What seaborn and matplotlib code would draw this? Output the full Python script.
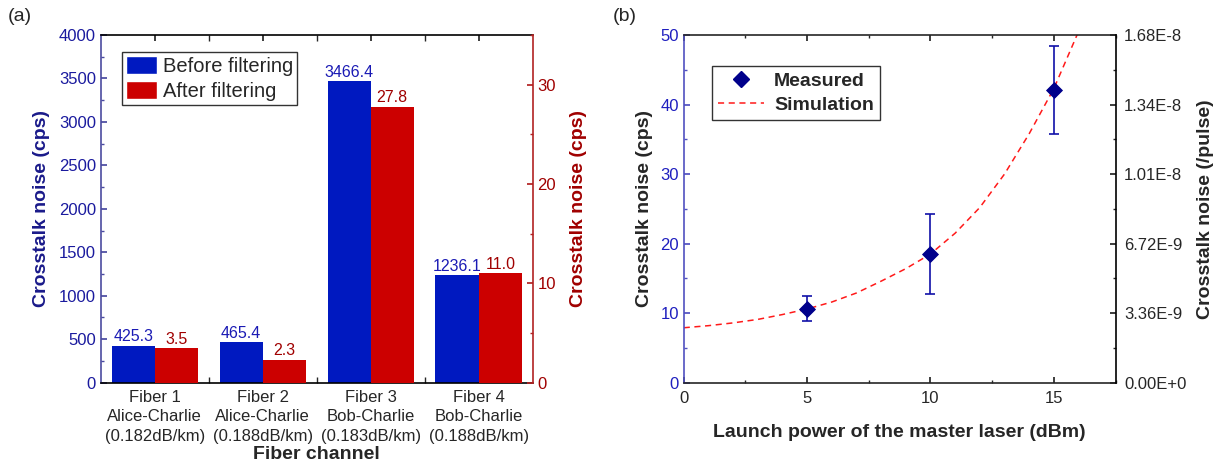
# Recreate the two-panel crosstalk noise figure.
import numpy as np
import pandas as pd
import matplotlib
matplotlib.use("Agg")
import matplotlib.pyplot as plt
import seaborn as sns
from matplotlib.ticker import MultipleLocator, FixedLocator
from matplotlib.lines import Line2D
from matplotlib.patches import Patch

# -----------------------------
# Data
# -----------------------------

# Panel (a): fiber channels and noise before / after filtering.
fiber_labels = [
    "Fiber 1\nAlice-Charlie\n(0.182dB/km)",
    "Fiber 2\nAlice-Charlie\n(0.188dB/km)",
    "Fiber 3\nBob-Charlie\n(0.183dB/km)",
    "Fiber 4\nBob-Charlie\n(0.188dB/km)",
]
before_filtering = [425.3, 465.4, 3466.4, 1236.1]
after_filtering = [3.5, 2.3, 27.8, 11.0]

# Panel (b): measured points with error bars.
launch_power = [5, 10, 15]
measured_noise = [10.6, 18.5, 42.1]
measured_low = [8.8, 12.8, 35.8]
measured_high = [12.4, 24.2, 48.4]

# Panel (b): simulation curve.
sim_power = [0, 1, 2, 3, 4, 5, 6, 7, 8, 9, 10, 11, 12, 13, 14, 15, 16]
sim_noise = [7.9, 8.2, 8.6, 9.1, 9.8, 10.6, 11.6, 12.9, 14.6, 16.4,
             18.5, 21.5, 25.2, 30.0, 35.8, 42.3, 50.5]

# Right-hand axis of panel (b).
pulse_ticks = [0, 3.36e-9, 6.72e-9, 1.01e-8, 1.34e-8, 1.68e-8]
pulse_tick_labels = ["0.00E+0", "3.36E-9", "6.72E-9", "1.01E-8", "1.34E-8", "1.68E-8"]

# -----------------------------
# Style
# -----------------------------
sns.set_theme(style="ticks")
plt.rcParams["font.family"] = ["Liberation Sans", "DejaVu Sans"]
plt.rcParams["xtick.direction"] = "in"
plt.rcParams["ytick.direction"] = "in"

BLUE_BAR = "#0019c0"
RED_BAR = "#cc0000"
NAVY = "#1a1a9e"
DARK_RED = "#a00000"
LABEL_SIZE = 14

fig = plt.figure(figsize=(12.24, 4.72), dpi=100)

# -----------------------------
# Panel (a): grouped bars on two y-axes
# -----------------------------
ax = fig.add_axes([0.0823, 0.1892, 0.3529, 0.7367])
ax2 = ax.twinx()

positions = np.arange(len(fiber_labels))
df_bars = pd.DataFrame({
    "pos": positions,
    "before": before_filtering,
    "after": after_filtering,
})

sns.barplot(x=df_bars["pos"] - 0.2, y=df_bars["before"], native_scale=True,
            width=0.4, color=BLUE_BAR, saturation=1, linewidth=0, ax=ax)
sns.barplot(x=df_bars["pos"] + 0.2, y=df_bars["after"], native_scale=True,
            width=0.4, color=RED_BAR, saturation=1, linewidth=0, ax=ax2)

ax.bar_label(ax.containers[0], fmt="%.1f", color="#1a1ab4", fontsize=11.5, padding=1)
ax2.bar_label(ax2.containers[0], fmt="%.1f", color=DARK_RED, fontsize=11.5, padding=1)

ax.set_xlim(-0.5, 3.5)
ax.set_ylim(0, 4000)
ax2.set_ylim(0, 35)

ax.xaxis.set_major_locator(FixedLocator(positions))
ax.xaxis.set_minor_locator(FixedLocator([0.5, 1.5, 2.5]))
ax.set_xticklabels(fiber_labels, fontsize=12, linespacing=1.4)
ax.tick_params(axis="x", which="both", top=True, length=4, pad=5)

ax.yaxis.set_major_locator(MultipleLocator(500))
ax.yaxis.set_minor_locator(MultipleLocator(250))
ax.tick_params(axis="y", which="major", labelsize=12, labelcolor=NAVY, color="#4b4ba0", length=4)
ax.tick_params(axis="y", which="minor", color="#4b4ba0", length=2.5)

ax2.yaxis.set_major_locator(MultipleLocator(10))
ax2.yaxis.set_minor_locator(MultipleLocator(5))
ax2.tick_params(axis="y", which="major", labelsize=12, labelcolor=DARK_RED, color="#b22222", length=4)
ax2.tick_params(axis="y", which="minor", color="#b22222", length=2.5)

ax.set_xlabel("Fiber channel", fontsize=LABEL_SIZE, fontweight="bold", labelpad=1)
ax.set_ylabel("Crosstalk noise (cps)", fontsize=LABEL_SIZE, fontweight="bold", color="#1a1a8a", labelpad=6)
ax2.set_ylabel("Crosstalk noise (cps)", fontsize=LABEL_SIZE, fontweight="bold", color=DARK_RED, labelpad=10)

for spine in ["top", "bottom"]:
    ax.spines[spine].set_color("black")
    ax2.spines[spine].set_visible(False)
ax.spines["left"].set_color("#4b4ba0")
ax2.spines["left"].set_visible(False)
ax2.spines["right"].set_color("#b22222")
ax.spines["right"].set_visible(False)
for s in ax.spines.values():
    s.set_linewidth(1.2)
for s in ax2.spines.values():
    s.set_linewidth(1.2)

legend_handles = [Patch(facecolor=BLUE_BAR, label="Before filtering"),
                  Patch(facecolor=RED_BAR, label="After filtering")]
leg = ax.legend(handles=legend_handles, loc="upper left", bbox_to_anchor=(0.05, 0.95),
                fontsize=14.5, frameon=True, fancybox=False, edgecolor="black",
                handlelength=1.5, handleheight=1.0, handletextpad=0.3,
                borderpad=0.2, labelspacing=0.25, borderaxespad=0)
leg.get_frame().set_linewidth(1.0)

fig.text(0.006, 0.965, "(a)", fontsize=14, va="center", ha="left")

# -----------------------------
# Panel (b): measured points and simulation curve
# -----------------------------
bx = fig.add_axes([0.5586, 0.1892, 0.3528, 0.7367])
bx2 = bx.twinx()

df_sim = pd.DataFrame({"power": sim_power, "noise": sim_noise})
sns.lineplot(data=df_sim, x="power", y="noise", color="#ff1a1a", linestyle=(0, (4, 3)),
             linewidth=1.1, ax=bx)

err_low = np.array(measured_noise) - np.array(measured_low)
err_high = np.array(measured_high) - np.array(measured_noise)
bx.errorbar(launch_power, measured_noise, yerr=[err_low, err_high], fmt="none",
            ecolor="#1010a8", elinewidth=1.2, capsize=3.5, capthick=1.2, zorder=3)
df_meas = pd.DataFrame({"power": launch_power, "noise": measured_noise})
sns.scatterplot(data=df_meas, x="power", y="noise", marker="D", s=65, color="#00008b",
                edgecolor="#00008b", zorder=4, ax=bx)

bx.set_xlim(0, 17.5)
bx.set_ylim(0, 50)
bx2.set_ylim(0, 1.68e-8)

bx.xaxis.set_major_locator(MultipleLocator(5))
bx.xaxis.set_minor_locator(MultipleLocator(2.5))
bx.yaxis.set_major_locator(MultipleLocator(10))
bx.yaxis.set_minor_locator(MultipleLocator(5))
bx.tick_params(axis="x", which="both", top=True, labelsize=12, pad=6)
bx.tick_params(axis="x", which="major", length=4)
bx.tick_params(axis="x", which="minor", length=2.5)
bx.tick_params(axis="y", which="major", labelsize=12, labelcolor="#1f1fbf", color="#5050c0", length=4)
bx.tick_params(axis="y", which="minor", color="#5050c0", length=2.5)

bx2.yaxis.set_major_locator(FixedLocator(pulse_ticks))
bx2.yaxis.set_minor_locator(FixedLocator([1.68e-9, 5.04e-9, 8.4e-9, 1.176e-8, 1.512e-8]))
bx2.set_yticklabels(pulse_tick_labels)
bx2.tick_params(axis="y", which="major", labelsize=12, length=4, pad=6)
bx2.tick_params(axis="y", which="minor", length=2.5)

bx.set_xlabel("Launch power of the master laser (dBm)", fontsize=LABEL_SIZE, fontweight="bold", labelpad=13)
bx.set_ylabel("Crosstalk noise (cps)", fontsize=LABEL_SIZE, fontweight="bold", labelpad=5)
bx2.set_ylabel("Crosstalk noise (/pulse)", fontsize=LABEL_SIZE, fontweight="bold", labelpad=8)

bx.spines["left"].set_color("#5050c0")
bx2.spines["left"].set_visible(False)
bx.spines["right"].set_visible(False)
bx2.spines["right"].set_color("black")
bx2.spines["top"].set_visible(False)
bx2.spines["bottom"].set_visible(False)
for s in list(bx.spines.values()) + list(bx2.spines.values()):
    s.set_linewidth(1.2)

b_handles = [Line2D([], [], marker="D", color="#00008b", linestyle="none", markersize=8,
                    label="Measured"),
             Line2D([], [], color="#ff1a1a", linestyle=(0, (4, 3)), linewidth=1.1,
                    label="Simulation")]
leg_b = bx.legend(handles=b_handles, loc="upper left", bbox_to_anchor=(0.065, 0.91),
                  prop={"size": 14, "weight": "bold"}, frameon=True, fancybox=False,
                  edgecolor="black", handlelength=2.4, handletextpad=0.5,
                  borderpad=0.3, labelspacing=0.35, borderaxespad=0)
leg_b.get_frame().set_linewidth(1.0)

fig.text(0.5005, 0.965, "(b)", fontsize=14, va="center", ha="left")

fig.savefig("out.png", dpi=100)
plt.close(fig)
